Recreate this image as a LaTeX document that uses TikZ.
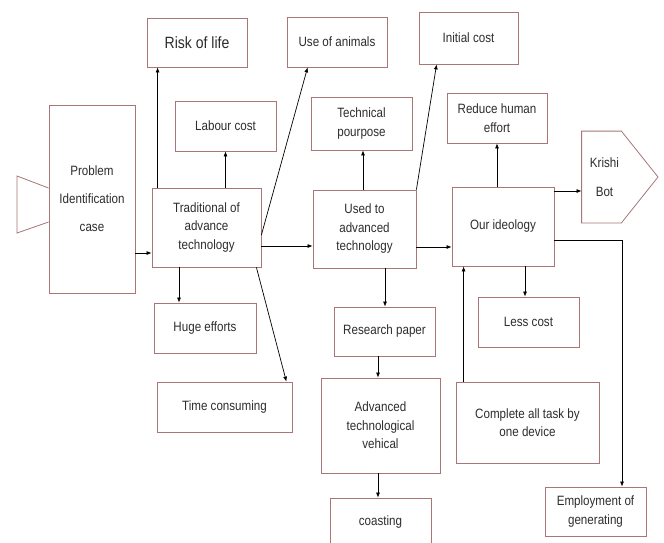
\documentclass[tikz,border=0pt]{standalone}
\usepackage{fontspec}
\setmainfont{Liberation Sans}[FakeStretch=0.86]
\usetikzlibrary{calc,arrows.meta}

\definecolor{edgered}{RGB}{168,118,118}
\definecolor{txtgray}{RGB}{45,45,45}

\tikzset{
    box/.style={draw=edgered, line width=0.8pt, inner sep=0pt, align=center,
        text=txtgray, font=\fontsize{13.5}{18.5}\selectfont},
    arr/.style={-{Latex[length=5pt,width=4pt]}, line width=0.7pt},
    ln/.style={line width=0.7pt}
}

\begin{document}
\begin{tikzpicture}[x=1pt,y=-1pt]
    \clip (0,0) rectangle (664,542);
    \fill[white] (0,0) rectangle (664,542);

    \node[box, minimum width=86, minimum height=188, font=\fontsize{13.5}{28}\selectfont] (prob) at (92,199) {Problem\\Identification\\case};
    \draw[edgered, line width=0.8pt] (prob.west |- 0,188) -- (17,176) -- (17,233) -- (prob.west |- 0,222);

    \node[box, minimum width=109, minimum height=79] (trad) at (206.5,227.5) {Traditional of\\advance\\technology};
    \node[box, minimum width=101, minimum height=50] (labour) at (225.5,126) {Labour cost};
    \node[box, minimum width=100, minimum height=49, font=\fontsize{16.3}{18}\selectfont] (risk) at (197,42.5) {Risk of life};
    \node[box, minimum width=100, minimum height=50] (animals) at (337,42) {Use of animals};
    \node[box, minimum width=102, minimum height=50] (huge) at (205,328) {Huge efforts};
    \node[box, minimum width=135, minimum height=50] (time) at (224.5,407) {Time consuming};

    \node[box, minimum width=103, minimum height=78] (used) at (364.5,229) {Used to\\advanced\\technology};
    \node[box, minimum width=101, minimum height=53] (tech) at (361.5,123.5) {Technical\\pourpose};
    \node[box, minimum width=99, minimum height=52] (initial) at (468.5,38) {Initial cost};
    \node[box, minimum width=101, minimum height=49] (research) at (384.5,331.5) {Research paper};
    \node[box, minimum width=119, minimum height=95] (vehical) at (380.5,425.5) {Advanced\\technological\\vehical};
    \node[box, minimum width=101, minimum height=48] (coast) at (380.5,522) {coasting};

    \node[box, minimum width=102, minimum height=79] (our) at (503,226.5) {Our ideology};
    \node[box, minimum width=100, minimum height=50] (reduce) at (497,118) {Reduce human\\effort};
    \node[box, minimum width=101, minimum height=50] (less) at (528.5,322) {Less cost};
    \node[box, minimum width=143, minimum height=81] (complete) at (527.5,422.5) {Complete all task by\\one device};
    \node[box, minimum width=101, minimum height=49] (employ) at (595.5,511.5) {Employment of\\generating};

    \node[box, draw=none, minimum width=39, minimum height=91, font=\fontsize{13.5}{29}\selectfont] (krishi) at (601.5,177) {\hspace*{6pt}Krishi\\\hspace*{6pt}Bot};
    \draw[edgered, line width=0.8pt] (krishi.north west) -- (krishi.north east) -- (658,177) -- (krishi.south east) -- (krishi.south west) -- cycle;

    \draw[arr] (prob.east |- 0,253) -- (trad.west |- 0,253);
    \draw[arr] ([xshift=6]trad.north west) -- ([xshift=6]trad.north west |- risk.south);
    \draw[arr] (labour.south |- trad.north) -- (labour.south);
    \draw[arr] (trad.east |- 0,235) -- ([xshift=21]animals.south west);
    \draw[arr] (huge.north -| 179,0) ++(0,-36) -- (huge.north -| 179,0);
    \draw[arr] ([xshift=-5]trad.south east) -- ([xshift=-6]time.north east);
    \draw[arr] (trad.east |- 0,246) -- (used.west |- 0,246);

    \draw[arr] (tech.south -| 363,0) ++(0,40) -- (tech.south -| 363,0);
    \draw[arr] (used.north east) -- ([xshift=18]initial.south west);
    \draw[arr] (used.south -| 385,0) -- (research.north -| 385,0);
    \draw[arr] (research.south -| 378,0) -- (vehical.north -| 378,0);
    \draw[arr] (vehical.south -| 378,0) -- (coast.north -| 378,0);
    \draw[arr] (used.east |- 0,247) -- (our.west |- 0,247);

    \draw[arr] (our.north -| reduce.south) -- (reduce.south);
    \draw[arr] (our.east |- 0,191) -- (krishi.west |- 0,191);
    \draw[arr] (our.south -| 525,0) -- (less.north -| 525,0);
    \draw[arr] ([xshift=8]complete.north west) -- ([xshift=8]complete.north west |- our.south);
    \draw[arr] (our.east |- 0,240) -| ([xshift=26.5]employ.north);
\end{tikzpicture}
\end{document}
